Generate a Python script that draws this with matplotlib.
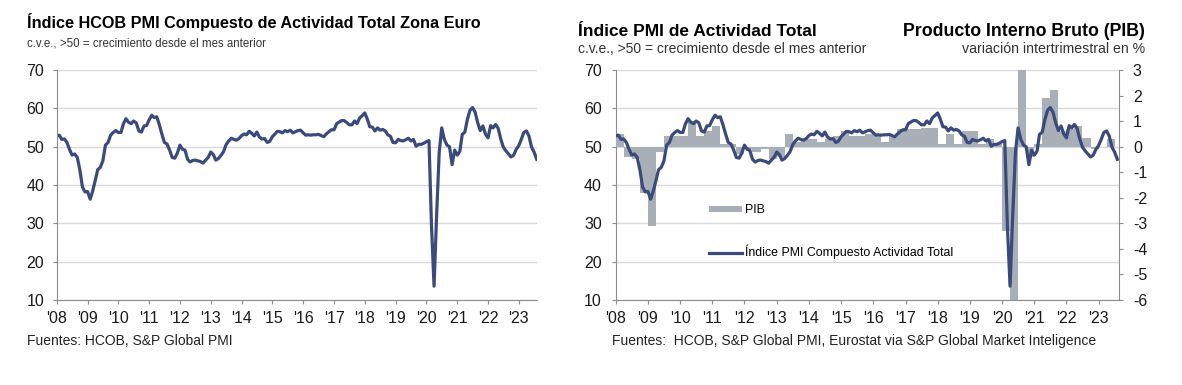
import matplotlib
matplotlib.use('Agg')
import matplotlib.pyplot as plt
import pandas as pd

plt.rcParams['font.family'] = ['Liberation Sans', 'DejaVu Sans']
plt.rcParams['axes.unicode_minus'] = False

# Composite PMI, monthly Jan 2008 - Aug 2023
pmi = [52.8, 53.0, 51.9, 52.0, 51.1, 49.3, 47.8, 48.1, 47.2, 44.0, 39.5, 38.2,
       38.3, 36.3, 38.3, 41.1, 44.0, 44.6, 46.3, 50.4, 51.1, 53.0, 53.7, 54.2,
       53.7, 53.7, 55.9, 57.3, 56.4, 56.0, 56.7, 56.2, 54.1, 53.8, 55.4, 55.5,
       57.0, 58.2, 57.6, 57.8, 55.8, 53.3, 51.1, 50.7, 49.1, 47.2, 47.0, 48.3,
       50.4, 49.3, 49.1, 46.7, 46.0, 46.4, 46.5, 46.3, 46.1, 45.7, 46.5, 47.2,
       48.6, 47.9, 46.5, 46.9, 47.7, 48.7, 50.5, 51.5, 52.2, 51.9, 51.7, 52.1,
       52.9, 53.3, 53.1, 54.0, 53.5, 52.8, 53.8, 52.5, 52.0, 52.1, 51.1, 51.4,
       52.6, 53.3, 54.0, 53.9, 53.6, 54.2, 53.9, 54.3, 53.6, 53.9, 54.2, 54.3,
       53.6, 53.0, 53.1, 53.0, 53.1, 53.1, 53.2, 52.9, 52.6, 53.3, 53.9, 54.4,
       54.4, 56.0, 56.4, 56.8, 56.8, 56.3, 55.7, 55.7, 56.7, 56.0, 57.5, 58.1,
       58.8, 57.1, 55.2, 55.1, 54.1, 54.9, 54.3, 54.5, 54.1, 53.1, 52.7, 51.1,
       51.0, 51.9, 51.6, 51.5, 51.8, 52.2, 51.5, 51.9, 50.1, 50.6, 50.6, 50.9,
       51.3, 51.6, 29.7, 13.6, 31.9, 48.5, 54.9, 51.9, 50.4, 50.0, 45.3, 49.1,
       47.8, 48.8, 53.2, 53.8, 57.1, 59.5, 60.2, 59.0, 56.2, 54.2, 55.4, 53.3,
       52.3, 55.5, 54.9, 55.8, 54.8, 52.0, 49.9, 48.9, 48.1, 47.3, 47.8, 49.3,
       50.3, 52.0, 53.7, 54.1, 52.8, 49.9, 48.6, 46.7]

# GDP q/q %, Q1 2008 - Q2 2023
gdp = [0.5, -0.4, -0.5, -1.8,
       -3.1, -0.2, 0.4, 0.4,
       0.4, 1.0, 0.4, 0.6,
       0.8, 0.1, 0.1, -0.3,
       -0.1, -0.2, -0.1, -0.5,
       -0.4, 0.5, 0.2, 0.3,
       0.3, 0.2, 0.3, 0.4,
       0.6, 0.4, 0.4, 0.5,
       0.5, 0.2, 0.4, 0.7,
       0.7, 0.7, 0.75, 0.75,
       0.1, 0.5, 0.1, 0.6,
       0.6, 0.1, 0.3, 0.1,
       -3.3, -11.8, 12.6, -0.4,
       0.1, 1.9, 2.2, 0.6,
       0.7, 0.8, 0.35, -0.1,
       0.0, 0.3]

years = list(range(2008, 2024))
year_labels = ["'%02d" % (y % 100) for y in years]

months = pd.date_range('2008-01-01', periods=len(pmi), freq='MS')
qstart = pd.date_range('2008-01-01', periods=len(gdp), freq='QS')
qwidth = [(q + pd.offsets.QuarterBegin(startingMonth=1) - q).days for q in qstart]
year_ticks = pd.to_datetime(['%d-01-01' % y for y in years])

navy = '#3b4a7d'
bar_col = '#a8afb6'
grid_col = '#d9d9d9'
spine_col = '#8c8c8c'
txt = '#1a1a1a'

W, H = 1182, 385
fig = plt.figure(figsize=(W / 100, H / 100), dpi=100)


def box(x0, y0, x1, y1):
    return [x0 / W, 1 - y1 / H, (x1 - x0) / W, (y1 - y0) / H]


def ftext(x, y, s, **kw):
    fig.text(x / W, 1 - y / H, s, va='baseline', **kw)


def style_axis(ax):
    ax.set_ylim(10, 70)
    ax.set_yticks(range(10, 71, 10))
    ax.yaxis.grid(True, color=grid_col, lw=1)
    ax.set_axisbelow(True)
    ax.set_xticks(year_ticks)
    ax.set_xticklabels(year_labels)
    for s in ['top', 'right']:
        ax.spines[s].set_visible(False)
    for s in ['left', 'bottom']:
        ax.spines[s].set_color(spine_col)
    ax.tick_params(axis='both', colors=spine_col, labelcolor=txt, labelsize=11.5,
                   length=3)
    ax.tick_params(axis='y', pad=6)
    ax.tick_params(axis='x', pad=5)


# ---- left chart
ax1 = fig.add_axes(box(56.7, 70, 536.7, 300))
style_axis(ax1)
ax1.plot(months, pmi, color=navy, lw=2.3, solid_joinstyle='round')
ax1.set_xlim(months[0], months[-1])

ftext(27, 28, 'Índice HCOB PMI Compuesto de Actividad Total Zona Euro',
      fontsize=11.7, fontweight='bold', color='black')
ftext(27, 46, 'c.v.e., >50 = crecimiento desde el mes anterior', fontsize=8.3, color='#333333')
ftext(27, 345, 'Fuentes: HCOB, S&P Global PMI', fontsize=10, color='#222222')

# ---- right chart
ax2 = fig.add_axes(box(615.7, 70, 1119, 300))
style_axis(ax2)
ax2.tick_params(axis='y', pad=7)
xend = pd.Timestamp('2023-08-20')
ax2.set_xlim(months[0], xend)

axb = ax2.twinx()
bars = axb.bar(qstart, gdp, width=qwidth, align='edge', color=bar_col, lw=0, label='PIB')
axb.set_ylim(-6, 3)
axb.set_yticks(range(-6, 4))
for s in ['top', 'left', 'bottom']:
    axb.spines[s].set_visible(False)
axb.spines['right'].set_color(spine_col)
axb.tick_params(axis='y', colors=spine_col, labelcolor=txt, labelsize=11.5, length=3, pad=7)
axb.set_xlim(months[0], xend)

axl = ax2.twinx()
line, = axl.plot(months, pmi, color=navy, lw=2.3, solid_joinstyle='round',
                 label='Índice PMI Compuesto Actividad Total')
axl.set_ylim(10, 70)
axl.yaxis.set_visible(False)
for s in axl.spines.values():
    s.set_visible(False)
axl.set_xlim(months[0], xend)

axl.legend(handles=[bars, line], loc='center left', bbox_to_anchor=(0.185, 0.296),
           frameon=False, fontsize=8.9, borderpad=0, borderaxespad=0,
           handlelength=2.7, handleheight=0.4, handletextpad=0.25, labelspacing=2.3)

ftext(578, 36, 'Índice PMI de Actividad Total', fontsize=12.5, fontweight='bold', color='black')
ftext(578, 53, 'c.v.e., >50 = crecimiento desde el mes anterior', fontsize=10, color='#333333')
ftext(1145, 36, 'Producto Interno Bruto (PIB)', fontsize=12.8, fontweight='bold',
      color='black', ha='right')
ftext(1145, 53, 'variación intertrimestral en %', fontsize=10.2, color='#333333', ha='right')
ftext(612, 345, 'Fuentes:  HCOB, S&P Global PMI, Eurostat via S&P Global Market Inteligence',
      fontsize=10, color='#222222')

fig.savefig('out.png', dpi=100, facecolor='white')
